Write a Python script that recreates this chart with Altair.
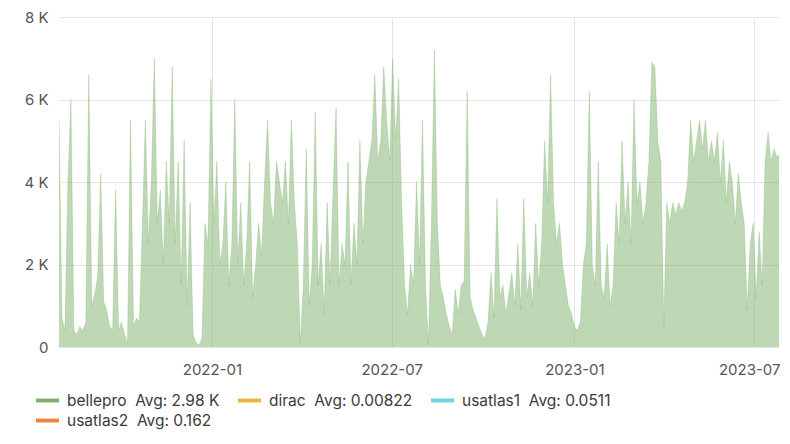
import altair as alt
import pandas as pd

# ---- data ----
series_names = ["bellepro", "dirac", "usatlas1", "usatlas2"]
series_avgs = ["2.98 K", "0.00822", "0.0511", "0.162"]
series_colors = ["#7EB26D", "#EAB839", "#6ED0E0", "#EF843C"]

start_date = "2021-07-31"
step_days = 3
bellepro = [
    5500, 700, 400, 4000, 6000, 400, 300, 500, 400, 600,
    6600, 1000, 1300, 1700, 4200, 1100, 900, 500, 400, 3800,
    400, 600, 300, 100, 5500, 500, 700, 600, 3000, 5500,
    2500, 4000, 7000, 3000, 3800, 2000, 4500, 3000, 6800, 2500,
    4500, 1500, 5000, 1000, 3500, 300, 100, 50, 200, 3000,
    2500, 6500, 3000, 4500, 2000, 2500, 4000, 1500, 2500, 6000,
    2000, 3500, 1500, 2500, 4500, 1200, 2000, 3000, 2200, 4000,
    5500, 3500, 3000, 4500, 4000, 3500, 4500, 3000, 5500, 3500,
    2500, 100, 1500, 4800, 1000, 2000, 5700, 1500, 2500, 800,
    3500, 1500, 3800, 5800, 1500, 2500, 2000, 4500, 1500, 3000,
    2000, 5000, 2500, 4000, 4500, 5000, 6600, 4500, 5000, 6800,
    5500, 4500, 7000, 5000, 6500, 3500, 1500, 800, 2000, 1500,
    4000, 2000, 5500, 1500, 50, 3000, 7200, 3000, 1500, 1200,
    800, 500, 300, 1400, 800, 1500, 1600, 6200, 1200, 900,
    700, 500, 300, 200, 600, 1800, 700, 3600, 1200, 1500,
    800, 1300, 1800, 1000, 2500, 900, 3600, 1200, 1800, 1000,
    3000, 1500, 2500, 5000, 3500, 6600, 3500, 2500, 3000, 2000,
    1500, 1000, 800, 500, 400, 600, 2000, 2500, 6200, 2000,
    1500, 4500, 1500, 1200, 2500, 1000, 1500, 3500, 2500, 5000,
    3000, 4000, 2500, 6000, 3500, 4000, 3000, 3500, 4500, 6900,
    6800, 5000, 4500, 500, 3500, 3000, 3500, 3200, 3500, 3300,
    3500, 4000, 5500, 4500, 5000, 5500, 4800, 5500, 4500, 5000,
    4500, 5200, 4000, 5000, 3500, 4500, 4000, 3000, 4200, 3500,
    3000, 900, 2500, 3000, 1200, 2800, 1500, 4500, 5200, 4500,
    4800, 4600, 4700,
]

x_tick_dates = [(2022, 1, 1), (2022, 7, 1), (2023, 1, 1), (2023, 7, 1)]
x_domain = [(2021, 7, 31), (2023, 7, 26)]
y_ticks = [0, 2000, 4000, 6000, 8000]

# ---- build table ----
df = pd.DataFrame({
    "time": pd.date_range(start_date, periods=len(bellepro), freq=f"{step_days}D"),
    "value": bellepro,
    "series": series_names[0],
})

def dt(t):
    return alt.DateTime(year=t[0], month=t[1], date=t[2])

NB = "\u00a0\u00a0"
label_expr = ""
for n, a in zip(series_names, series_avgs):
    label_expr += f"datum.label == '{n}' ? '{n}{NB}Avg: {a}' : "
label_expr += "datum.label"

FONT = "Inter"
last_tick = x_tick_dates[-1]
last_test = f"year(datum.value) == {last_tick[0]} && month(datum.value) == {last_tick[1] - 1}"

x = alt.X(
    "time:T",
    scale=alt.Scale(domain=[dt(d) for d in x_domain]),
    axis=alt.Axis(
        values=[dt(d) for d in x_tick_dates],
        format="%Y-%m",
        title=None,
        ticks=False,
        tickSize=0,
        domain=False,
        labelPadding=15,
        labelFontSize=15,
        labelOffset={"condition": {"test": last_test, "value": -5}, "value": 0},
        labelColor="#555555",
        labelFont=FONT,
        gridColor="#e6e6e6",
    ),
)
y = alt.Y(
    "value:Q",
    stack=None,
    scale=alt.Scale(domain=[0, 8000], nice=False),
    axis=alt.Axis(
        values=y_ticks,
        labelExpr="datum.value == 0 ? '0' : (datum.value / 1000) + ' K'",
        title=None,
        ticks=False,
        tickSize=0,
        domain=False,
        labelPadding=11,
        labelFontSize=15,
        labelColor="#555555",
        labelFont=FONT,
        gridColor="#e6e6e6",
    ),
)

area = alt.Chart(df).mark_area(opacity=0.5, interpolate="linear", clip=True).encode(
    x=x,
    y=y,
    color=alt.Color(
        "series:N",
        scale=alt.Scale(domain=series_names, range=series_colors),
        legend=alt.Legend(
            title=None,
            orient="none",
            legendX=-23,
            legendY=372,
            direction="horizontal",
            columns=3,
            columnPadding=18,
            rowPadding=0,
            padding=0,
            symbolType="M-1,-0.17H1V0.17H-1Z",
            symbolSize=529,
            symbolOpacity=1,
            symbolStrokeWidth=0,
            labelOffset=8,
            labelFontSize=15.5,
            labelFont=FONT,
            labelColor="#3a3a3a",
            labelExpr=label_expr,
            labelLimit=400,
        ),
    ),
)

line = alt.Chart(df).mark_line(color="#7EB26D", strokeWidth=1, opacity=0.3, clip=True).encode(
    x="time:T",
    y="value:Q",
)

chart = (
    alt.layer(area, line)
    .properties(
        width=720,
        height=330,
        autosize=alt.AutoSizeParams(type="none"),
        padding={"left": 51, "top": 9, "right": 3, "bottom": 89},
        background="white",
    )
    .configure_view(stroke=None)
)

chart.save("out.html", embed_options={"renderer": "svg", "actions": False})
